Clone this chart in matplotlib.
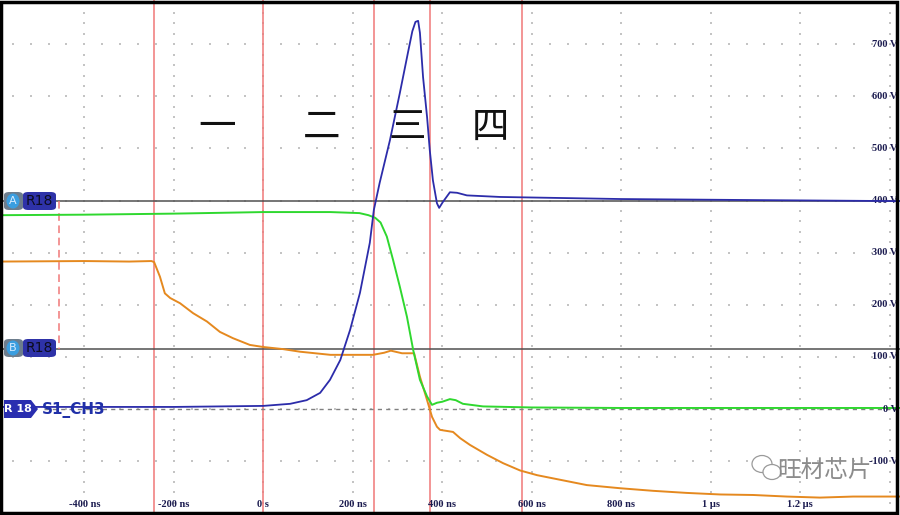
import numpy as np
import matplotlib
matplotlib.use('Agg')
import matplotlib.pyplot as plt
from matplotlib.patches import FancyBboxPatch, Polygon, Rectangle, Ellipse

# ---- data (time in ns, voltage in V) ----
blue_t = [-588, -400, -200, 0, 60, 97, 127, 149, 172, 194, 216, 238, 247, 260,
          283, 305, 323, 333, 340, 346, 350, 357, 366, 372, 379, 388, 393, 401,
          417, 433, 455, 529, 800, 1100, 1422]
blue_v = [4, 4, 4, 6, 10, 17, 31, 56, 94, 152, 223, 319, 382, 434,
          516, 606, 683, 725, 743, 745, 722, 637, 560, 497, 439, 395, 386, 397,
          416, 415, 410, 407, 403, 401, 399]

green_t = [-588, -400, -200, 0, 150, 215, 235, 250, 262, 276, 290, 305, 321, 335,
           350, 366, 377, 388, 400, 417, 430, 446, 491, 600, 800, 1000, 1422]
green_v = [372, 373, 375, 378, 378, 376, 372, 367, 358, 331, 286, 235, 177, 113,
           56, 24, 8, 12, 14, 19, 17, 10, 5, 3, 2, 2, 2]

orange_t = [-588, -400, -300, -250, -244, -231, -220, -208, -186, -157, -126,
            -97, -68, -30, 0, 44, 82, 150, 200, 245, 270, 285, 310, 337, 350,
            366, 377, 388, 395, 424, 440, 462, 500, 536, 574, 612, 647, 723,
            797, 871, 946, 1021, 1095, 1170, 1244, 1318, 1422]
orange_v = [283, 284, 283, 284, 282, 254, 222, 213, 203, 184, 168,
            148, 136, 123, 119, 115, 110, 104, 104, 104, 108, 112, 107, 107, 62,
            17, -15, -34, -40, -44, -56, -69, -88, -104, -118, -127, -133, -146,
            -152, -157, -161, -164, -165, -168, -170, -168, -168]

cursor_times = [-244, 0, 248, 373, 578]
cursor_a = 400
cursor_b = 116
delta_t = -456

region_labels = ['一', '二', '三', '四']
region_t = [-103, 131, 321, 507]

volt_ticks = [700, 600, 500, 400, 300, 200, 100, 0, -100]
volt_labels = ['700 V', '600 V', '500 V', '400 V', '300 V', '200 V', '100 V', '0 V', '-100 V']
time_ticks = [-400, -200, 0, 200, 400, 600, 800, 1000, 1200]
time_labels = ['-400 ns', '-200 ns', '0 s', '200 ns', '400 ns', '600 ns', '800 ns', '1 µs', '1.2 µs']

plt.rcParams['font.family'] = ['Noto Sans CJK SC', 'DejaVu Sans']

fig = plt.figure(figsize=(9, 5.15), dpi=100)
fig.patch.set_facecolor('white')
ax = fig.add_axes([0, 0, 1, 1])
ax.set_xlim(-588.4, 1422.8)
ax.set_ylim(-203.4, 785)
ax.axis('off')

def px(x, y):
    return (x / 900.0, 1 - y / 515.0)

# dotted graticule
gx = np.arange(-400, 1401, 200)
gy = np.arange(-100, 701, 100)
for x in gx:
    vv = np.arange(-200, 785, 20)
    ax.scatter(np.full_like(vv, x), vv, s=1.2, marker='s', color='#c4c4c4', lw=0, zorder=1)
for y in gy:
    tt = np.arange(-560, 1421, 40)
    ax.scatter(tt, np.full_like(tt, y), s=1.2, marker='s', color='#c4c4c4', lw=0, zorder=1)

# cursors
for t in cursor_times:
    ax.axvline(t, color='#f07878', lw=1.1, zorder=2)
ax.axhline(cursor_a, color='#505050', lw=1.1, zorder=2)
ax.axhline(cursor_b, color='#505050', lw=1.1, zorder=2)
ax.plot([delta_t, delta_t], [cursor_a, cursor_b], color='#f07878', lw=1.1,
        dashes=(5, 3), zorder=2)
ax.plot([-490, 1422], [0, 0], color='#808080', lw=1, dashes=(3, 3), zorder=2)

# traces
ax.plot(orange_t, orange_v, color='#e5891f', lw=1.4, zorder=3)
ax.plot(green_t, green_v, color='#2fd82f', lw=1.4, zorder=4)
ax.plot(blue_t, blue_v, color='#2c2caa', lw=1.3, zorder=5)

# phase labels
for s, t in zip(region_labels, region_t):
    ax.text(t, 541, s, fontsize=27, ha='center', va='center', color='#111111', zorder=6)

# right voltage labels
for v, s in zip(volt_ticks, volt_labels):
    ax.text(1418, v, s, fontsize=7.5, ha='right', va='center', color='#1c1c50',
            family='Liberation Serif', weight='bold', zorder=4)
# bottom time labels
for t, s in zip(time_ticks, time_labels):
    ax.text(t, -184, s, fontsize=7.5, ha='center', va='center', color='#1c1c50',
            family='Liberation Serif', weight='bold', zorder=4)

# channel badges A / B
for y, letter in [(201, 'A'), (348, 'B')]:
    x0, y0 = px(4, y + 9)
    fig.patches.append(FancyBboxPatch((x0, y0), 19 / 900, 18 / 515,
                                      boxstyle='round,pad=0,rounding_size=0.006',
                                      transform=fig.transFigure, fc='#6d7d8d', ec='none', zorder=7))
    cx, cy = px(13, y)
    fig.patches.append(Ellipse((cx, cy), 13 / 900, 15 / 515, transform=fig.transFigure,
                               fc='#3a9ee0', ec='none', zorder=8))
    fig.text(cx, cy, letter, fontsize=8, color='#d8ecff', ha='center', va='center',
             family='DejaVu Sans', zorder=9)
    x1, y1 = px(23, y + 9)
    fig.patches.append(FancyBboxPatch((x1, y1), 33 / 900, 18 / 515,
                                      boxstyle='round,pad=0,rounding_size=0.006',
                                      transform=fig.transFigure, fc='#2e32a8', ec='none', zorder=7))
    fig.text(*px(39, y), 'R18', fontsize=10, color='#0c0c20', ha='center', va='center',
             family='DejaVu Sans', zorder=9)

# ground marker R 18 S1_CH3
pts = [px(4, 400), px(31, 400), px(38, 409), px(31, 418), px(4, 418)]
fig.patches.append(Polygon(pts, closed=True, transform=fig.transFigure,
                           fc='#2a2eb0', ec='none', zorder=7))
fig.text(*px(18, 409), 'R 18', fontsize=8, color='white', weight='bold',
         ha='center', va='center', family='DejaVu Sans', zorder=9)
fig.text(*px(42, 410), 'S1_CH3', fontsize=11, color='#2030a8', weight='bold',
         ha='left', va='center', family='DejaVu Sans', zorder=9)

# watermark
wx, wy = px(766, 467)
fig.patches.append(Ellipse((wx - 4 / 900, wy + 3 / 515), 20 / 900, 17 / 515, transform=fig.transFigure,
                           fc='white', ec='#9a9a9a', lw=0.9, zorder=7))
fig.patches.append(Ellipse((wx + 6 / 900, wy - 5 / 515), 18 / 900, 15 / 515, transform=fig.transFigure,
                           fc='white', ec='#9a9a9a', lw=0.9, zorder=7))
fig.text(*px(824, 470), '旺材芯片', fontsize=17, color='#8c8c8c', ha='center', va='center',
         zorder=9)

# outer frame
fig.patches.append(Rectangle((0.0015, 0.003), 0.995, 0.994, transform=fig.transFigure,
                             fill=False, ec='black', lw=2.5, zorder=10))

fig.savefig('out.png', dpi=100)
